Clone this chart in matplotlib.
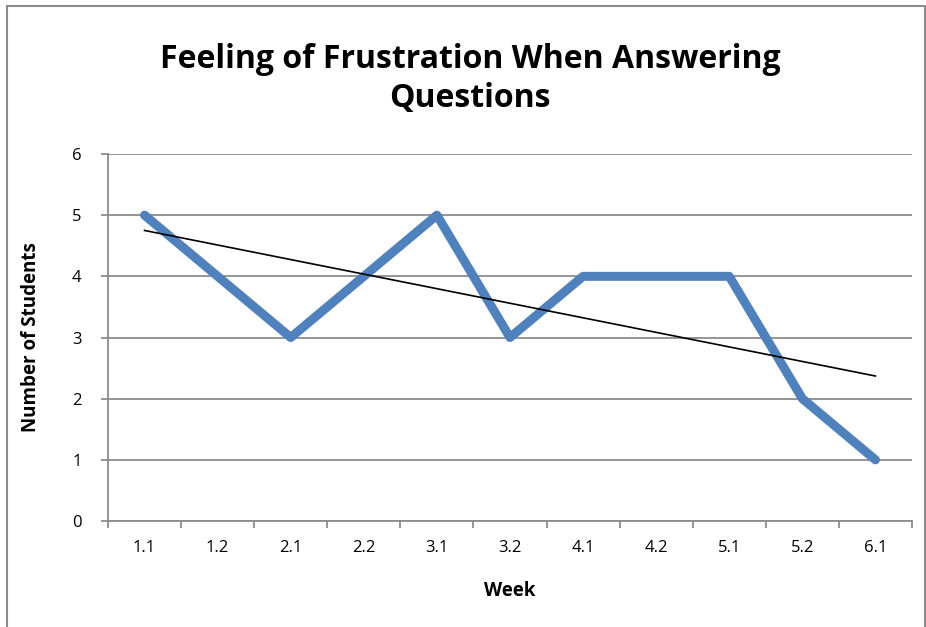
import matplotlib.pyplot as plt
import matplotlib.patches as patches
import numpy as np

weeks = ["1.1", "1.2", "2.1", "2.2", "3.1", "3.2", "4.1", "4.2", "5.1", "5.2", "6.1"]
students = [5, 4, 3, 4, 5, 3, 4, 4, 4, 2, 1]
# trendline values at the first and last week, as drawn in the original
trend_ends = [4.75, 2.37]

plt.rcParams['font.family'] = ['Open Sans', 'DejaVu Sans']

fig = plt.figure(figsize=(9.26, 6.27), dpi=100)
ax = fig.add_axes([108 / 926, 1 - 521 / 627, 804 / 926, 367 / 627])

# outer chart border
fig.patches.append(patches.Rectangle((7 / 926, -0.01), 918 / 926, 627 / 627,
                                     transform=fig.transFigure, fill=False,
                                     edgecolor='#8c8c8c', linewidth=1.5))

x = np.arange(len(weeks))
ax.plot(x, students, color='#4f81bd', linewidth=6.5, solid_joinstyle='round',
        solid_capstyle='round', zorder=3)
ax.plot([x[0], x[-1]], trend_ends, color='black', linewidth=1.2, zorder=4)

ax.set_xlim(-0.5, len(weeks) - 0.5)
ax.set_ylim(0, 6)
ax.set_yticks(range(7))
ax.yaxis.grid(True, color='#8c8c8c', linewidth=1.3)
ax.set_axisbelow(True)

ax.set_xticks(x)
ax.set_xticklabels(weeks)
ax.set_xticks(np.arange(-0.5, len(weeks)), minor=True)
ax.tick_params(axis='x', which='major', length=0, pad=14, labelsize=12)
ax.tick_params(axis='x', which='minor', length=5, width=1.3, color='#8c8c8c')
ax.tick_params(axis='y', length=5, width=1.3, color='#8c8c8c', pad=14, labelsize=12)

for side in ['top', 'right']:
    ax.spines[side].set_visible(False)
for side in ['left', 'bottom']:
    ax.spines[side].set_color('#8c8c8c')
    ax.spines[side].set_linewidth(1.3)

ax.set_xlabel("Week", fontsize=13.5, fontweight='bold', labelpad=18)
ax.set_ylabel("Number of Students", fontsize=13.5, fontweight='bold', labelpad=22)

fig.text(470 / 926, 1 - 79 / 627, "Feeling of Frustration When Answering\nQuestions",
         ha='center', va='center', fontsize=23, fontweight='bold', linespacing=1.2)

fig.savefig("out.png", dpi=100)
